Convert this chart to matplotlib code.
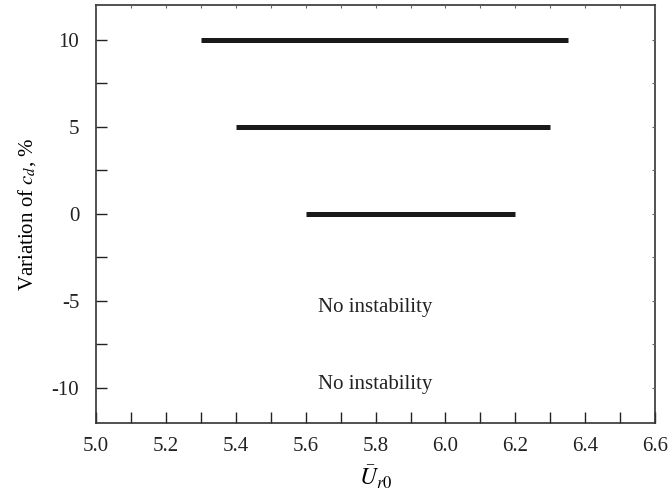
import matplotlib
matplotlib.use('Agg')
import matplotlib.pyplot as plt
from matplotlib.ticker import MultipleLocator

plt.rcParams['font.family'] = ['Liberation Serif', 'DejaVu Serif']
plt.rcParams['mathtext.fontset'] = 'stix'
plt.rcParams['axes.unicode_minus'] = False

# ranges of U_r0 where instability occurs, per variation of c_d (%)
variation = [10, 5, 0]
u_start = [5.30, 5.40, 5.60]
u_end = [6.35, 6.30, 6.20]

# bands with no instability
note_y = [-5.4, -9.8]
note_x = 5.8
note_text = 'No instability'

fig = plt.figure(figsize=(6.7, 4.98), dpi=100)
ax = fig.add_axes([0.143, 0.151, 0.835, 0.839])

for v, a, b in zip(variation, u_start, u_end):
    ax.plot([a, b], [v, v], color='#1a1a1a', lw=3.6, solid_capstyle='butt')

for y in note_y:
    ax.text(note_x, y, note_text, ha='center', va='center', fontsize=15, color='#222222')

ax.set_xlim(5.0, 6.6)
ax.set_ylim(-12, 12)
ax.xaxis.set_major_locator(MultipleLocator(0.2))
ax.xaxis.set_minor_locator(MultipleLocator(0.1))
ax.yaxis.set_major_locator(MultipleLocator(5))
ax.yaxis.set_minor_locator(MultipleLocator(2.5))
ax.set_xticklabels([f'{v:.1f}' for v in ax.get_xticks()])

ax.tick_params(which='both', direction='in', labelsize=15, colors='#222222', length=8, width=1,
               top=False, right=False)
ax.tick_params(axis='x', pad=10)
ax.tick_params(axis='y', pad=12)
for spine in ax.spines.values():
    spine.set_linewidth(1.2)
    spine.set_color('#333333')

# tiny ticks on the top and right edges
tx = ax.twiny()
tx.set_xlim(ax.get_xlim())
tx.xaxis.set_major_locator(MultipleLocator(0.1))
tx.tick_params(direction='in', length=2, width=0.8, labeltop=False, colors='#666666')
ty = ax.twinx()
ty.set_ylim(ax.get_ylim())
ty.yaxis.set_major_locator(MultipleLocator(2.5))
ty.tick_params(direction='in', length=2, width=0.8, labelright=False, colors='#666666')
for t in (tx, ty):
    for spine in t.spines.values():
        spine.set_visible(False)

ax.set_xlabel(r'$\bar{U}_{r0}$', fontsize=17, labelpad=6)
ax.set_ylabel(r'Variation of $c_d$, %', fontsize=15, labelpad=10)

fig.savefig('out.png', dpi=100)
